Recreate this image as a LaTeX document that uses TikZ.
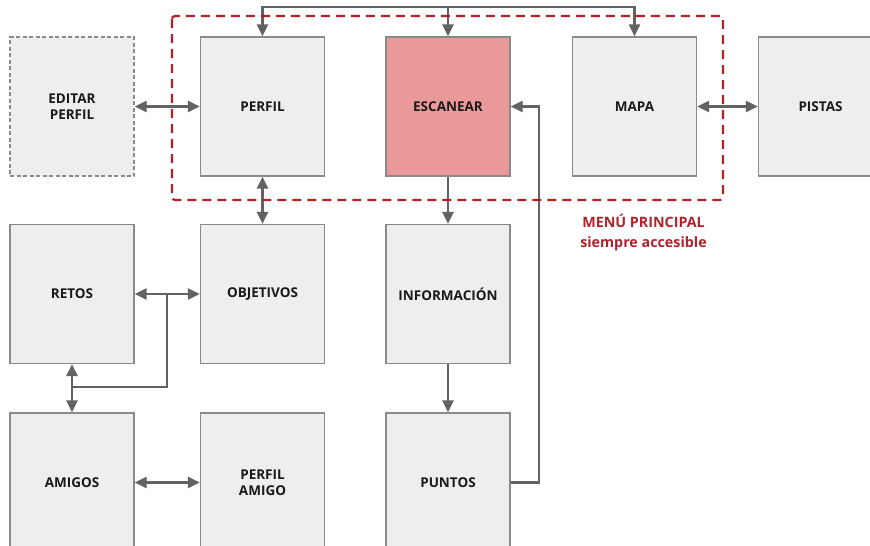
\documentclass[tikz,border=0pt]{standalone}
\usepackage{fontspec}
\setmainfont{Open Sans}
\usetikzlibrary{arrows.meta}
\definecolor{boxfill}{HTML}{EEEEEE}
\definecolor{boxline}{HTML}{8A8A8A}
\definecolor{arrowc}{HTML}{626262}
\definecolor{scanfill}{HTML}{EA9999}
\definecolor{menured}{HTML}{B0222A}
\tikzset{
  screen/.style={draw=boxline, fill=boxfill, line width=1.3pt, minimum width=124pt, minimum height=139pt, inner sep=0pt, align=center, font=\fontsize{13.5}{16.5}\selectfont\bfseries, text=black!90},
  editbox/.style={screen, dash pattern=on 4pt off 2.5pt},
  scanbox/.style={screen, fill=scanfill},
  conn/.style={draw=arrowc, line width=2.4pt, {Triangle[length=12pt,width=11pt]}-{Triangle[length=12pt,width=11pt]}},
  oneway/.style={draw=arrowc, line width=2.4pt, -{Triangle[length=12pt,width=11pt]}},
  plain/.style={draw=arrowc, line width=2.4pt},
  menubox/.style={draw=menured, line width=2.2pt, dash pattern=on 9pt off 6pt, rounded corners=3pt},
  menulabel/.style={text=menured, align=center, font=\fontsize{14.3}{20}\selectfont\bfseries}
}
\begin{document}
\begin{tikzpicture}[x=1pt,y=-1pt]
\useasboundingbox (0,0) rectangle (870,546);
% row 1
\node[editbox] (editar) at (72,106.5) {EDITAR\\PERFIL};
\node[screen] (perfil) at (262.5,106.5) {PERFIL};
\node[scanbox] (escanear) at (448,106.5) {ESCANEAR};
\node[screen] (mapa) at (634.5,106.5) {MAPA};
\node[screen] (pistas) at (820.5,106.5) {PISTAS};
% row 2
\node[screen] (retos) at (72,294) {RETOS};
\node[screen] (objetivos) at (262.5,294) {OBJETIVOS};
\node[screen] (informacion) at (448,294) {INFORMACIÓN};
% row 3
\node[screen] (amigos) at (72,482.5) {AMIGOS};
\node[screen] (perfilamigo) at (262.5,482.5) {PERFIL\\AMIGO};
\node[screen] (puntos) at (448,482.5) {PUNTOS};
% connectors
\coordinate (top) at (0,7);
\draw[conn] (perfil.north) |- (top -| escanear.north) -| (mapa.north);
\draw[oneway] (top -| escanear.north) -- (escanear.north);
\draw[conn] (editar.east) -- (perfil.west);
\draw[conn] (mapa.east) -- (pistas.west);
\draw[conn] (perfil.south) -- (objetivos.north);
\draw[oneway] (escanear.south) -- (informacion.north);
\draw[oneway] (informacion.south) -- (puntos.north);
\coordinate (loop) at (539,0);
\draw[oneway] (puntos.east) -- (puntos.east -| loop) |- (escanear.east);
\draw[conn] (retos.east) -- (objetivos.west);
\coordinate (junc) at (167,294);
\coordinate (low) at (0,387);
\draw[plain] (junc) |- (low -| retos.south);
\draw[conn] (retos.south) -- (amigos.north);
\draw[conn] (amigos.east) -- (perfilamigo.west);
% menu
\draw[menubox] (172,16) rectangle (723,200);
\node[menulabel] (menulbl) at (643.5,232.5) {MENÚ PRINCIPAL\\siempre accesible};
\end{tikzpicture}
\end{document}
